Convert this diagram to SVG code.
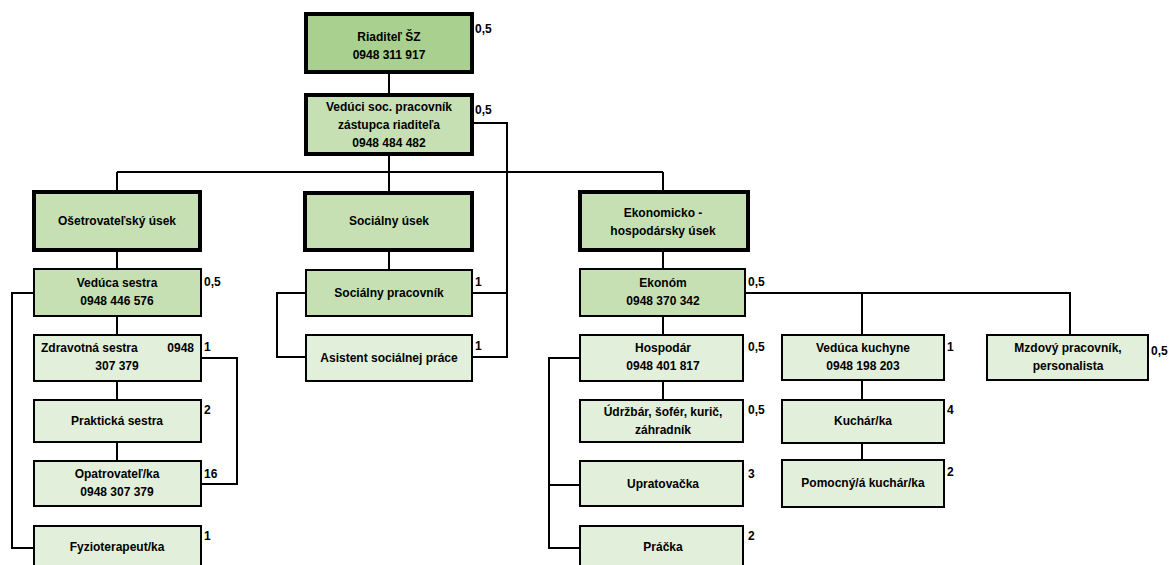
<svg xmlns="http://www.w3.org/2000/svg" width="1176" height="565" viewBox="0 0 1176 565">
<style>
text{font-family:"Liberation Sans",Arial,sans-serif;font-weight:bold;font-size:12px;fill:#000}
.c{text-anchor:middle}
.b{stroke:#000;stroke-width:2}
.t{stroke:#000;stroke-width:4}
.d{fill:#a9d08e}
.m{fill:#c6e0b4}
.l{fill:#e2efda}
.ln{fill:none;stroke:#000;stroke-width:2}
</style>
<rect width="1176" height="565" fill="#fff"/>
<g id="connectors">
<path class="ln" d="M389 72V94M389 155V192M117 172H663M117 172V191M663 172V191"/>
<path class="ln" d="M473 123H507V357H472M472 293H507"/>
<path class="ln" d="M117 251V269M117 316V334M117 381V400M117 442V461"/>
<path class="ln" d="M33 293H12V548H33M201 358H237V484H201"/>
<path class="ln" d="M389 251V269M306 293H277V357H306"/>
<path class="ln" d="M663 251V269M663 316V334M663 381V400"/>
<path class="ln" d="M580 358H549V548H580M549 485H580"/>
<path class="ln" d="M745 293H1070V335M862 293V335M862 380V400M862 443V460"/>
</g>
<g id="riaditel"><rect class="t d" x="306" y="14" width="166" height="58"/><text class="c" x="389" y="41">Riaditeľ ŠZ</text><text class="c" x="389" y="59">0948 311 917</text><text x="475" y="33">0,5</text></g>
<g id="veduci"><rect class="t m" x="306" y="95" width="166" height="59"/><text class="c" x="389" y="111">Vedúci soc. pracovník</text><text class="c" x="389" y="129">zástupca riaditeľa</text><text class="c" x="389" y="147">0948 484 482</text><text x="475" y="114">0,5</text></g>
<g id="osetrovatelsky"><rect class="t m" x="34" y="192" width="166" height="58"/><text class="c" x="117" y="225">Ošetrovateľský úsek</text></g>
<g id="socialny-usek"><rect class="t m" x="305" y="193" width="167" height="57"/><text class="c" x="389" y="225">Sociálny úsek</text></g>
<g id="ekonomicko"><rect class="t m" x="580" y="192" width="168" height="58"/><text class="c" x="663" y="217">Ekonomicko -</text><text class="c" x="663" y="235">hospodársky úsek</text></g>
<g id="veduca-sestra"><rect class="b m" x="34" y="269" width="167" height="47"/><text class="c" x="117" y="287">Vedúca sestra</text><text class="c" x="117" y="305">0948 446 576</text><text x="204" y="286">0,5</text></g>
<g id="zdravotna"><rect class="b l" x="34" y="335" width="167" height="46"/><text x="41" y="352">Zdravotná sestra<tspan x="194" style="text-anchor:end">0948</tspan></text><text class="c" x="117" y="370">307 379</text><text x="204" y="351">1</text></g>
<g id="prakticka"><rect class="b l" x="34" y="400" width="167" height="42"/><text class="c" x="117" y="425">Praktická sestra</text><text x="204" y="414">2</text></g>
<g id="opatrovatel"><rect class="b l" x="34" y="461" width="167" height="45"/><text class="c" x="117" y="478">Opatrovateľ/ka</text><text class="c" x="117" y="496">0948 307 379</text><text x="204" y="478">16</text></g>
<g id="fyzioterapeut"><rect class="b l" x="34" y="526" width="167" height="50"/><text class="c" x="117" y="551">Fyzioterapeut/ka</text><text x="204" y="540">1</text></g>
<g id="socialny-pracovnik"><rect class="b m" x="306" y="270" width="166" height="46"/><text class="c" x="389" y="297">Sociálny pracovník</text><text x="475" y="286">1</text></g>
<g id="asistent"><rect class="b l" x="306" y="335" width="166" height="46"/><text class="c" x="389" y="362">Asistent sociálnej práce</text><text x="475" y="350">1</text></g>
<g id="ekonom"><rect class="b m" x="580" y="269" width="165" height="47"/><text class="c" x="663" y="287">Ekonóm</text><text class="c" x="663" y="305">0948 370 342</text><text x="748" y="286">0,5</text></g>
<g id="hospodar"><rect class="b l" x="580" y="335" width="163" height="46"/><text class="c" x="663" y="352">Hospodár</text><text class="c" x="663" y="370">0948 401 817</text><text x="748" y="351">0,5</text></g>
<g id="udrzbar"><rect class="b l" x="580" y="400" width="163" height="42"/><text class="c" x="663" y="416">Údržbár, šofér, kurič,</text><text class="c" x="663" y="434">záhradník</text><text x="748" y="414">0,5</text></g>
<g id="upratovacka"><rect class="b l" x="580" y="461" width="163" height="45"/><text class="c" x="663" y="488">Upratovačka</text><text x="748" y="478">3</text></g>
<g id="pracka"><rect class="b l" x="580" y="526" width="163" height="50"/><text class="c" x="663" y="551">Práčka</text><text x="748" y="540">2</text></g>
<g id="veduca-kuchyne"><rect class="b l" x="782" y="335" width="162" height="45"/><text class="c" x="863" y="352">Vedúca kuchyne</text><text class="c" x="863" y="370">0948 198 203</text><text x="947" y="351">1</text></g>
<g id="kuchar"><rect class="b l" x="782" y="400" width="162" height="43"/><text class="c" x="863" y="425">Kuchár/ka</text><text x="947" y="414">4</text></g>
<g id="pomocny"><rect class="b l" x="782" y="460" width="162" height="47"/><text class="c" x="863" y="487">Pomocný/á kuchár/ka</text><text x="947" y="476">2</text></g>
<g id="mzdovy"><rect class="b l" x="987" y="335" width="161" height="45"/><text class="c" x="1068" y="352">Mzdový pracovník,</text><text class="c" x="1068" y="370">personalista</text><text x="1151" y="355">0,5</text></g>
</svg>
